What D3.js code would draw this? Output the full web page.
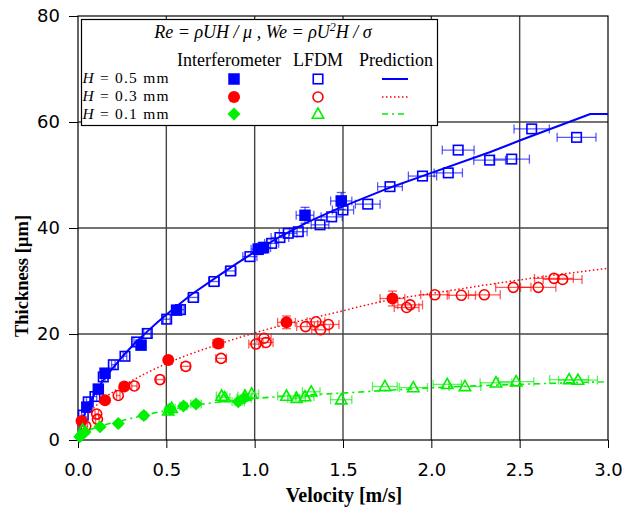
<!DOCTYPE html>
<html><head><meta charset="utf-8">
<script src="https://cdn.jsdelivr.net/npm/d3@7"></script>
<style>body{margin:0;background:#fff}svg{display:block}</style>
</head><body><svg id="c" width="624" height="510"></svg>
<script>
// ---- data: [velocity m/s, thickness um, xErr, yErr]
const xTicks = [0.0,0.5,1.0,1.5,2.0,2.5,3.0];
const yTicks = [0,20,40,60,80];
const xGrid = [0.5,1.0,1.5,2.0,2.5];
const yGrid = [20,40,60];

const interf05 = [[0.05,6.2,0.005,0.5],[0.115,9.6,0.005,0.5],[0.153,12.6,0.006,0.6],[0.357,17.9,0.014,0.7],[0.558,24.5,0.02,0.8],[1.02,36.0,0.04,1.0],[1.05,36.3,0.04,1.0],[1.285,42.4,0.05,1.5],[1.49,45.1,0.06,1.6]];
const lfdm05 = [[0.03,4.7,0.01],[0.058,7.2,0.01],[0.096,8.2,0.01],[0.143,11.9,0.01],[0.2,14.2,0.01],[0.266,15.8,0.01],[0.332,18.5,0.015],[0.392,20.1,0.02],[0.502,22.8,0.02],[0.58,24.6,0.02],[0.653,26.9,0.03],[0.77,29.9,0.03],[0.864,31.9,0.03],[0.973,34.6,0.04],[1.096,37.1,0.04],[1.143,38.2,0.05],[1.19,39.0,0.05],[1.247,39.3,0.05],[1.37,40.6,0.05],[1.436,42.1,0.06],[1.5,43.4,0.06],[1.64,44.5,0.07],[1.766,47.8,0.07],[1.95,49.8,0.08],[2.096,50.4,0.08],[2.152,54.7,0.09],[2.33,52.8,0.09],[2.455,53.0,0.10],[2.568,58.7,0.10],[2.822,57.1,0.11]];
const pred05 = [[0,0],[0.01,2.0],[0.02,3.3],[0.035,4.7],[0.05,5.9],[0.075,7.6],[0.1,9.0],[0.135,10.9],[0.17,12.5],[0.21,14.1],[0.25,15.7],[0.32,18.2],[0.39,20.4],[0.45,22.2],[0.52,24.2],[0.64,27.4],[0.77,30.4],[0.88,32.9],[1.0,35.5],[1.14,38.3],[1.3,41.1],[1.48,43.8],[1.74,47.3],[2.0,50.4],[2.33,54.3],[2.5,56.5],[2.9,61.5],[3.0,61.5]];

const interf03 = [[0.02,3.6,0.005,0.4],[0.153,7.5,0.006,0.5],[0.262,10.1,0.01,0.5],[0.511,15.1,0.02,0.6],[0.794,18.2,0.03,0.8],[1.18,22.2,0.05,1.2],[1.78,26.7,0.07,1.4]];
const lfdm03 = [[0.044,2.6,0.01],[0.106,4.9,0.01],[0.11,3.9,0.01],[0.228,8.4,0.01],[0.319,10.2,0.015],[0.464,11.4,0.02],[0.61,13.9,0.025],[0.81,15.4,0.03],[1.007,18.1,0.04],[1.053,19.2,0.04],[1.064,18.4,0.04],[1.288,21.4,0.05],[1.347,22.3,0.05],[1.373,20.8,0.05],[1.417,21.8,0.06],[1.86,25.0,0.07],[1.88,25.5,0.07],[2.02,27.4,0.08],[2.17,27.3,0.08],[2.30,27.4,0.09],[2.464,28.8,0.10],[2.605,28.8,0.10],[2.694,30.5,0.11],[2.743,30.3,0.11]];
const pred03 = [[0,0],[0.02,2.9],[0.05,4.5],[0.1,6.4],[0.15,7.9],[0.26,10.3],[0.5,14.4],[0.79,18.0],[1.0,20.2],[1.49,24.3],[1.73,26.2],[2.05,27.9],[2.5,30.2],[3.0,32.4]];

const interf01 = [[0.01,0.6,0.005,0.3],[0.04,1.5,0.005,0.3],[0.125,2.5,0.005,0.3],[0.228,3.1,0.01,0.4],[0.373,4.6,0.015,0.4],[0.52,5.8,0.02,0.5],[0.597,6.4,0.02,0.5],[0.668,6.8,0.03,0.5],[0.907,7.2,0.035,0.6],[0.94,7.9,0.04,0.6]];
const lfdm01 = [[0.026,1.9,0.01],[0.511,5.5,0.02],[0.53,6.0,0.02],[0.813,8.3,0.03],[0.83,8.0,0.03],[0.945,8.3,0.04],[0.983,8.7,0.04],[1.18,8.3,0.05],[1.237,7.9,0.05],[1.285,8.2,0.05],[1.32,9.1,0.05],[1.49,7.6,0.06],[1.737,10.1,0.07],[1.898,9.9,0.08],[2.09,10.5,0.08],[2.19,10.1,0.09],[2.366,10.8,0.09],[2.48,11.0,0.10],[2.78,11.4,0.11],[2.83,11.3,0.11]];
const pred01 = [[0,0],[0.02,1.0],[0.05,1.6],[0.125,2.6],[0.23,3.5],[0.38,4.7],[0.52,5.7],[0.67,6.6],[1.03,7.9],[1.52,8.9],[2.16,10.1],[2.5,10.5],[3.0,11.0]];

const rowLabels = ["0.5 mm","0.3 mm","0.1 mm"];
const colHeads = ["Interferometer","LFDM","Prediction"];

// ---- drawing
const svg = d3.select("#c");
const x = d3.scaleLinear().domain([0,3]).range([78,608]);
const y = d3.scaleLinear().domain([0,80]).range([440,16]);
const serif = "'Liberation Serif','Times New Roman',serif";
const sans = "'DejaVu Sans',Verdana,sans-serif";

const series = [
  {c:"#0000ff", interf:interf05, lfdm:lfdm05, pred:pred05, fm:"square", om:"square", dash:null, w:2, curve:d3.curveLinear},
  {c:"#ff0000", interf:interf03, lfdm:lfdm03, pred:pred03, fm:"circle", om:"circle", dash:"1.5,2.5", w:1.5, curve:d3.curveMonotoneX},
  {c:"#00f000", interf:interf01, lfdm:lfdm01, pred:pred01, fm:"diamond", om:"triangle", dash:"6,4,2,4", w:1.6, curve:d3.curveMonotoneX}
];

// grid
const g = svg.append("g");
g.selectAll(".vg").data(xGrid).join("line").attr("x1",d=>x(d)).attr("x2",d=>x(d)).attr("y1",y(0)).attr("y2",y(80)).attr("stroke","#444").attr("stroke-width",1.4);
g.selectAll(".hg").data(yGrid).join("line").attr("x1",x(0)).attr("x2",x(3)).attr("y1",d=>y(d)).attr("y2",d=>y(d)).attr("stroke","#444").attr("stroke-width",1.4);

// axes
const xa = svg.append("g").attr("transform",`translate(0,${y(0)})`).call(d3.axisBottom(x).tickValues(xTicks).tickFormat(d3.format(".1f")).tickSize(8).tickSizeOuter(0).tickPadding(15));
const ya = svg.append("g").attr("transform",`translate(${x(0)},0)`).call(d3.axisLeft(y).tickValues(yTicks).tickSize(9).tickSizeOuter(0).tickPadding(9));
[xa,ya].forEach(a=>{a.select(".domain").remove();a.selectAll("text").attr("font-family",sans).attr("font-size",18).attr("fill","#000");a.selectAll("line").attr("stroke","#000");});
xa.selectAll("text").attr("dy","0.71em");
svg.append("rect").attr("x",x(0)).attr("y",y(80)).attr("width",x(3)-x(0)).attr("height",y(0)-y(80)).attr("fill","none").attr("stroke","#000").attr("stroke-width",1.2);

svg.append("text").attr("x",344).attr("y",502).attr("text-anchor","middle").attr("font-family",serif).attr("font-weight","bold").attr("font-size",20).text("Velocity [m/s]");
svg.append("text").attr("transform",`translate(28,276) rotate(-90)`).attr("text-anchor","middle").attr("font-family",serif).attr("font-weight","bold").attr("font-size",18.5).text("Thickness [µm]");

// marker drawer
function marker(sel, type, filled, color, cx, cy){
  const f = filled?color:"#fff", sw = filled?0:1.6;
  if(type==="square"){ const s = filled?11.5:9.5; sel.append("rect").attr("x",cx-s/2).attr("y",cy-s/2).attr("width",s).attr("height",s).attr("fill",f).attr("stroke",color).attr("stroke-width",sw).attr("fill-opacity",filled?1:0); }
  else if(type==="circle"){ sel.append("circle").attr("cx",cx).attr("cy",cy).attr("r",filled?6:5).attr("fill",f).attr("stroke",color).attr("stroke-width",sw).attr("fill-opacity",filled?1:0); }
  else if(type==="diamond"){ const r=6.5; sel.append("path").attr("d",`M${cx},${cy-r}L${cx+r},${cy}L${cx},${cy+r}L${cx-r},${cy}Z`).attr("fill",f); }
  else if(type==="triangle"){ const r=6; sel.append("path").attr("d",`M${cx},${cy-r}L${cx+r*0.95},${cy+r*0.7}L${cx-r*0.95},${cy+r*0.7}Z`).attr("fill","none").attr("stroke",color).attr("stroke-width",1.6); }
}
function errbars(sel, d, color){
  const cx=x(d[0]), cy=y(d[1]);
  const eg = sel.append("g").attr("stroke",color).attr("stroke-opacity",0.65).attr("stroke-width",1.3);
  if(d[2]){ const x1=x(d[0]-d[2]), x2=x(d[0]+d[2]);
    eg.append("line").attr("x1",x1).attr("x2",x2).attr("y1",cy).attr("y2",cy);
    eg.append("line").attr("x1",x1).attr("x2",x1).attr("y1",cy-4.5).attr("y2",cy+4.5);
    eg.append("line").attr("x1",x2).attr("x2",x2).attr("y1",cy-4.5).attr("y2",cy+4.5); }
  if(d[3]){ const y1=y(d[1]-d[3]), y2=y(d[1]+d[3]);
    eg.append("line").attr("x1",cx).attr("x2",cx).attr("y1",y1).attr("y2",y2);
    eg.append("line").attr("x1",cx-4.5).attr("x2",cx+4.5).attr("y1",y1).attr("y2",y1);
    eg.append("line").attr("x1",cx-4.5).attr("x2",cx+4.5).attr("y1",y2).attr("y2",y2); }
}

const plot = svg.append("g");
series.forEach(s=>{
  const sg = plot.append("g");
  s.lfdm.forEach(d=>{ errbars(sg,d,s.c); marker(sg,s.om,false,s.c,x(d[0]),y(d[1])); });
  s.interf.forEach(d=>{ errbars(sg,d,s.c); marker(sg,s.fm,true,s.c,x(d[0]),y(d[1])); });
  const line = d3.line().x(d=>x(d[0])).y(d=>y(d[1])).curve(s.curve);
  const p = sg.append("path").datum(s.pred).attr("d",line).attr("fill","none").attr("stroke",s.c).attr("stroke-width",s.w).attr("stroke-linejoin","round");
  if(s.dash) p.attr("stroke-dasharray",s.dash);
});

// legend
const lg = svg.append("g");
lg.append("rect").attr("x",81.5).attr("y",19.5).attr("width",356).attr("height",106).attr("fill","#fff").attr("stroke","#000").attr("stroke-width",1.2);
const t = lg.append("text").attr("x",263).attr("y",38).attr("text-anchor","middle").attr("font-family",serif).attr("font-size",18).attr("font-style","italic");
t.append("tspan").text("Re = ρUH / μ , We = ρU");
t.append("tspan").attr("font-size",12).attr("dy",-7).text("2");
t.append("tspan").attr("dy",7).text("H / σ");
const colX = [229,318,396];
colHeads.forEach((h,i)=>lg.append("text").attr("x",colX[i]).attr("y",65.5).attr("text-anchor","middle").attr("font-family",serif).attr("font-size",18).text(h));
const rowY = [79,97,114];
const rowBase = [83,101,119];
series.forEach((s,i)=>{
  const tx = lg.append("text").attr("x",82.5).attr("y",rowBase[i]).attr("font-family",serif).attr("font-size",15.5)
    .attr("textLength",86).attr("lengthAdjust","spacing");
  tx.append("tspan").attr("font-style","italic").text("H");
  tx.append("tspan").text(" = "+rowLabels[i]);
  marker(lg,s.fm,true,s.c,234,rowY[i]);
  marker(lg,s.om,false,s.c,318,rowY[i]);
  const l = lg.append("line").attr("x1",382).attr("x2",408).attr("y1",rowY[i]).attr("y2",rowY[i]).attr("stroke",s.c).attr("stroke-width",s.w);
  if(s.dash) l.attr("stroke-dasharray",s.dash);
});
</script></body></html>
